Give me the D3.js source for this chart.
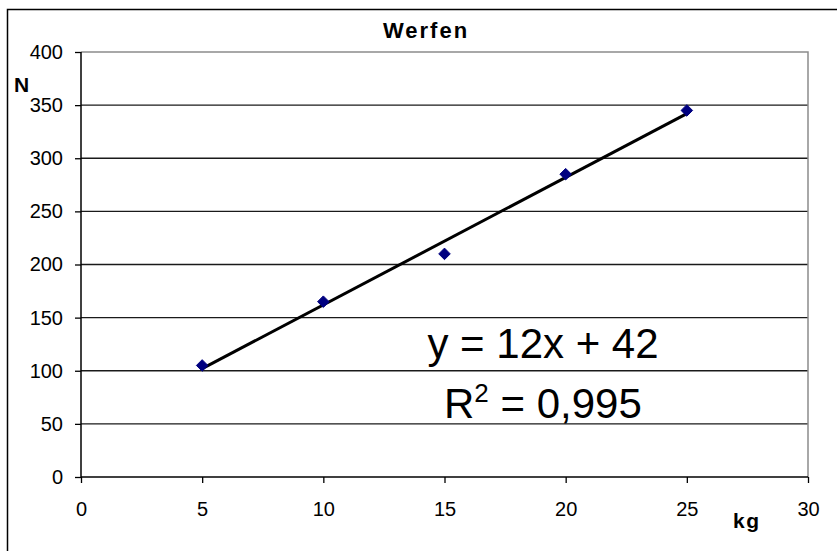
<!DOCTYPE html>
<html>
<head>
<meta charset="utf-8">
<script src="https://cdn.jsdelivr.net/npm/d3@7"></script>
<style>
  body { margin: 0; background: #fff; }
  text { font-family: Arial, "Liberation Sans", sans-serif; }
</style>
</head>
<body>
<div id="chart"></div>
<script>
  // data
  const masses = [5, 10, 15, 20, 25];          // kg
  const forces = [105, 165, 210, 285, 345];    // N
  const xTicks = [0, 5, 10, 15, 20, 25, 30];
  const yTicks = [0, 50, 100, 150, 200, 250, 300, 350, 400];
  const trendSlope = 12;
  const trendIntercept = 42;
  const trendLabel = "y = 12x + 42";
  const r2Label = "0,995";

  const width = 837, height = 551;
  const plot = { left: 81, right: 808, top: 52, bottom: 477 };

  var svg = d3.select("#chart").append("svg")
      .attr("width", width)
      .attr("height", height);

  // outer chart border (left + top visible)
  svg.append("path")
      .attr("d", "M7.5," + height + "V9.5H" + width)
      .attr("fill", "none")
      .attr("stroke", "#000")
      .attr("stroke-width", 1.5);

  var x = d3.scaleLinear().domain([0, 30]).range([plot.left, plot.right]);
  var y = d3.scaleLinear().domain([0, 400]).range([plot.bottom, plot.top]);

  // gridlines
  svg.append("g").selectAll("line")
      .data(yTicks.filter(function(d) { return d > 0 && d < 400; }))
      .enter().append("line")
      .attr("x1", plot.left).attr("x2", plot.right)
      .attr("y1", function(d) { return y(d); })
      .attr("y2", function(d) { return y(d); })
      .attr("stroke", "#1a1a1a")
      .attr("stroke-width", 1.4);

  // plot area border top/right (gray)
  svg.append("path")
      .attr("d", "M" + plot.left + "," + y(400) + "H" + plot.right + "V" + plot.bottom)
      .attr("fill", "none")
      .attr("stroke", "#8c8c8c")
      .attr("stroke-width", 1.5);

  // axes
  var yAxis = svg.append("g")
      .attr("transform", "translate(" + plot.left + ",0)")
      .call(d3.axisLeft(y).tickValues(yTicks).tickSize(6).tickPadding(12));
  var xAxis = svg.append("g")
      .attr("transform", "translate(0," + plot.bottom + ")")
      .call(d3.axisBottom(x).tickValues(xTicks).tickSize(6).tickPadding(19));

  [xAxis, yAxis].forEach(function(a) {
    a.select(".domain").attr("stroke", "#000").attr("stroke-width", 1.5);
    a.selectAll(".tick line").attr("stroke", "#000").attr("stroke-width", 1.3);
    a.selectAll(".tick text")
      .attr("fill", "#000")
      .style("font-size", "20px")
      .style("font-family", "Arial, 'Liberation Sans', sans-serif");
  });
  yAxis.select(".domain").attr("d", "M0," + plot.bottom + "V" + plot.top);
  xAxis.select(".domain").attr("d", "M" + plot.left + ",0H" + plot.right);

  // trendline
  var xs = d3.extent(masses);
  svg.append("line")
      .attr("x1", x(xs[0])).attr("y1", y(trendSlope * xs[0] + trendIntercept))
      .attr("x2", x(xs[1])).attr("y2", y(trendSlope * xs[1] + trendIntercept))
      .attr("stroke", "#000")
      .attr("stroke-width", 3);

  // markers
  svg.append("g").selectAll("path")
      .data(masses)
      .enter().append("path")
      .attr("d", d3.symbol().type(d3.symbolDiamond2).size(85))
      .attr("transform", function(d, i) { return "translate(" + x(d) + "," + y(forces[i]) + ")"; })
      .attr("fill", "#000080")
      .attr("stroke", "#000080")
      .attr("stroke-width", 1);

  // title and axis titles
  svg.append("text")
      .attr("x", 426).attr("y", 38)
      .attr("text-anchor", "middle")
      .style("font-size", "22px").style("font-weight", "bold")
      .style("letter-spacing", "2px")
      .text("Werfen");

  svg.append("text")
      .attr("x", 14).attr("y", 92)
      .style("font-size", "21px").style("font-weight", "bold")
      .text("N");

  svg.append("text")
      .attr("x", 733).attr("y", 528)
      .style("font-size", "21px").style("font-weight", "bold")
      .style("letter-spacing", "1.5px")
      .text("kg");

  // trendline label
  svg.append("text")
      .attr("x", 543).attr("y", 358)
      .attr("text-anchor", "middle")
      .style("font-size", "42px")
      .text(trendLabel);

  var r2 = svg.append("text")
      .attr("x", 444).attr("y", 418)
      .style("font-size", "42px");
  r2.append("tspan").text("R");
  r2.append("tspan").attr("dy", -16).style("font-size", "26px").text("2");
  r2.append("tspan").attr("dy", 16).text(" = " + r2Label);
</script>
</body>
</html>
